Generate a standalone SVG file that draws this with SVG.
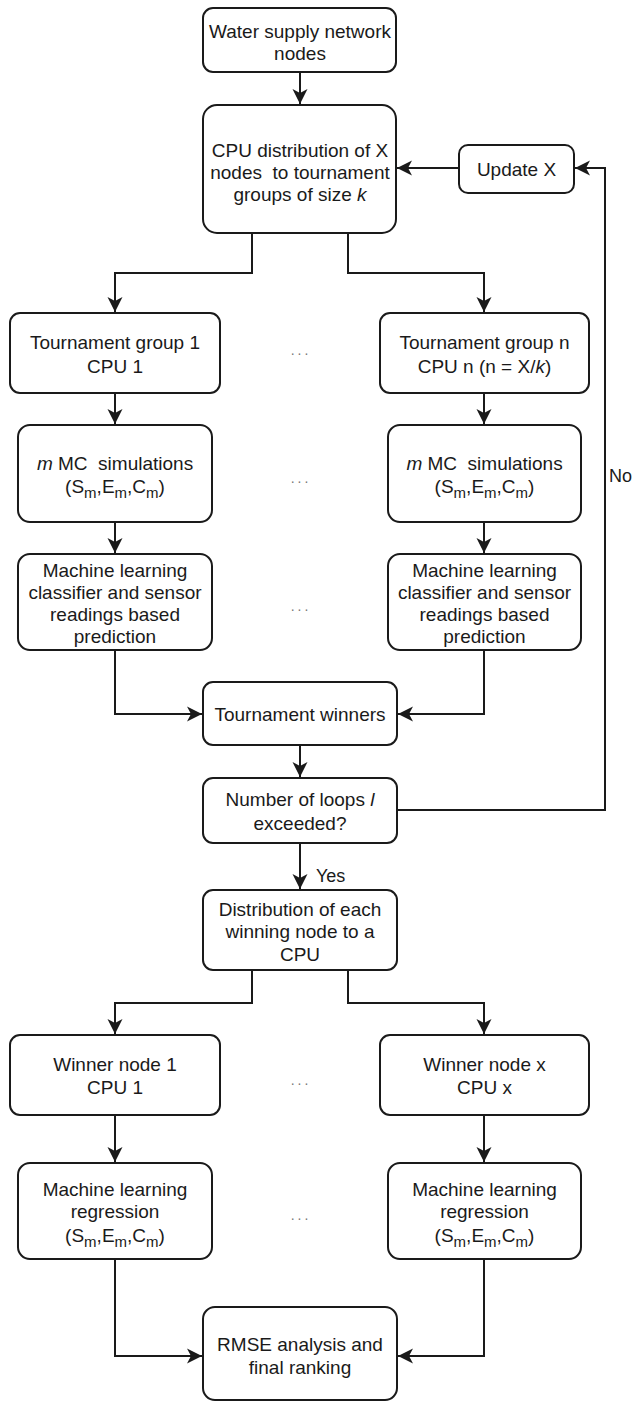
<svg xmlns="http://www.w3.org/2000/svg" width="634" height="1402" viewBox="0 0 634 1402">
<defs>
<style>
.box{fill:#fff;stroke:#1a1a1a;stroke-width:2}
.t{font-family:"Liberation Sans",Arial,sans-serif;font-size:19px;fill:#1a1a1a;text-anchor:middle}
.lbl{font-family:"Liberation Sans",Arial,sans-serif;font-size:18px;fill:#1a1a1a}
.dots{font-family:"Liberation Sans",Arial,sans-serif;font-size:14px;fill:#777;text-anchor:middle;letter-spacing:3px}
.c{fill:none;stroke:#1a1a1a;stroke-width:2}
.s{font-size:15px}
</style>
<marker id="ah" markerUnits="userSpaceOnUse" markerWidth="16" markerHeight="16" refX="15" refY="7.5" orient="auto" viewBox="0 0 16 15">
<path d="M0,0 L15,7.5 L0,15 L4,7.5 Z" fill="#1a1a1a"/>
</marker>
</defs>

<g id="connectors">
<path class="c" d="M300,72 V104" marker-end="url(#ah)"/>
<path class="c" d="M459,168 H397" marker-end="url(#ah)"/>
<path class="c" d="M397,810 H605 V168 H575" marker-end="url(#ah)"/>
<path class="c" d="M252,233 V273 H115 V312" marker-end="url(#ah)"/>
<path class="c" d="M348,233 V273 H484 V312" marker-end="url(#ah)"/>
<path class="c" d="M115,393 V424" marker-end="url(#ah)"/>
<path class="c" d="M484,393 V424" marker-end="url(#ah)"/>
<path class="c" d="M115,522 V553" marker-end="url(#ah)"/>
<path class="c" d="M484,522 V553" marker-end="url(#ah)"/>
<path class="c" d="M115,650 V714 H202" marker-end="url(#ah)"/>
<path class="c" d="M484,650 V714 H398" marker-end="url(#ah)"/>
<path class="c" d="M300,745 V777" marker-end="url(#ah)"/>
<path class="c" d="M300,843 V889" marker-end="url(#ah)"/>
<path class="c" d="M252,970 V1003 H115 V1034" marker-end="url(#ah)"/>
<path class="c" d="M348,970 V1003 H484 V1034" marker-end="url(#ah)"/>
<path class="c" d="M115,1115 V1162" marker-end="url(#ah)"/>
<path class="c" d="M484,1115 V1162" marker-end="url(#ah)"/>
<path class="c" d="M115,1259 V1356 H202" marker-end="url(#ah)"/>
<path class="c" d="M484,1259 V1356 H398" marker-end="url(#ah)"/>
<text class="lbl" x="609" y="482">No</text>
<text class="lbl" x="316" y="882">Yes</text>
</g>

<g id="n_water">
<rect class="box" x="203" y="8" width="193" height="64" rx="10"/>
<text class="t" x="300" y="38">Water supply network</text>
<text class="t" x="300" y="60">nodes</text>
</g>

<g id="n_cpu">
<rect class="box" x="203" y="105" width="193" height="128" rx="14"/>
<text class="t" x="300" y="157">CPU distribution of X</text>
<text class="t" x="300" y="179" style="white-space:pre">nodes  to tournament</text>
<text class="t" x="300" y="201">groups of size <tspan font-style="italic">k</tspan></text>
</g>

<g id="n_update">
<rect class="box" x="459" y="145" width="115" height="48" rx="9"/>
<text class="t" x="516.5" y="176">Update X</text>
</g>

<g id="n_tg1">
<rect class="box" x="10" y="313" width="210" height="80" rx="10"/>
<text class="t" x="115" y="349">Tournament group 1</text>
<text class="t" x="115" y="373">CPU 1</text>
</g>

<g id="n_tgn">
<rect class="box" x="380" y="313" width="209" height="80" rx="10"/>
<text class="t" x="484.5" y="349">Tournament group n</text>
<text class="t" x="484.5" y="373">CPU n (n = X/<tspan font-style="italic">k</tspan>)</text>
</g>

<text class="dots" x="301" y="355">...</text>

<g id="n_mc1">
<rect class="box" x="18" y="425" width="194" height="97" rx="12"/>
<text class="t" x="115" y="470" style="white-space:pre"><tspan font-style="italic">m</tspan> MC  simulations</text>
<text class="t" x="115" y="493">(S<tspan class="s" dy="5">m</tspan><tspan dy="-5">,E</tspan><tspan class="s" dy="5">m</tspan><tspan dy="-5">,C</tspan><tspan class="s" dy="5">m</tspan><tspan dy="-5">)</tspan></text>
</g>

<g id="n_mcn">
<rect class="box" x="388" y="425" width="193" height="97" rx="12"/>
<text class="t" x="484.5" y="470" style="white-space:pre"><tspan font-style="italic">m</tspan> MC  simulations</text>
<text class="t" x="484.5" y="493">(S<tspan class="s" dy="5">m</tspan><tspan dy="-5">,E</tspan><tspan class="s" dy="5">m</tspan><tspan dy="-5">,C</tspan><tspan class="s" dy="5">m</tspan><tspan dy="-5">)</tspan></text>
</g>

<text class="dots" x="301" y="483">...</text>

<g id="n_ml1">
<rect class="box" x="18" y="554" width="194" height="96" rx="12"/>
<text class="t" x="115" y="577">Machine learning</text>
<text class="t" x="115" y="599">classifier and sensor</text>
<text class="t" x="115" y="621">readings based</text>
<text class="t" x="115" y="643">prediction</text>
</g>

<g id="n_mln">
<rect class="box" x="388" y="554" width="193" height="96" rx="12"/>
<text class="t" x="484.5" y="577">Machine learning</text>
<text class="t" x="484.5" y="599">classifier and sensor</text>
<text class="t" x="484.5" y="621">readings based</text>
<text class="t" x="484.5" y="643">prediction</text>
</g>

<text class="dots" x="301" y="611">...</text>

<g id="n_winners">
<rect class="box" x="203" y="682" width="194" height="63" rx="10"/>
<text class="t" x="300" y="721">Tournament winners</text>
</g>

<g id="n_loops">
<rect class="box" x="203" y="778" width="194" height="65" rx="10"/>
<text class="t" x="300" y="806">Number of loops <tspan font-style="italic">l</tspan></text>
<text class="t" x="300" y="830">exceeded?</text>
</g>

<g id="n_dist">
<rect class="box" x="203" y="890" width="194" height="80" rx="10"/>
<text class="t" x="300" y="916">Distribution of each</text>
<text class="t" x="300" y="938">winning node to a</text>
<text class="t" x="300" y="961">CPU</text>
</g>

<g id="n_wn1">
<rect class="box" x="10" y="1035" width="210" height="80" rx="10"/>
<text class="t" x="115" y="1071">Winner node 1</text>
<text class="t" x="115" y="1094">CPU 1</text>
</g>

<g id="n_wnx">
<rect class="box" x="380" y="1035" width="209" height="80" rx="10"/>
<text class="t" x="484.5" y="1071">Winner node x</text>
<text class="t" x="484.5" y="1094">CPU x</text>
</g>

<text class="dots" x="301" y="1085">...</text>

<g id="n_reg1">
<rect class="box" x="18" y="1163" width="194" height="96" rx="12"/>
<text class="t" x="115" y="1196">Machine learning</text>
<text class="t" x="115" y="1218">regression</text>
<text class="t" x="115" y="1242">(S<tspan class="s" dy="5">m</tspan><tspan dy="-5">,E</tspan><tspan class="s" dy="5">m</tspan><tspan dy="-5">,C</tspan><tspan class="s" dy="5">m</tspan><tspan dy="-5">)</tspan></text>
</g>

<g id="n_regx">
<rect class="box" x="388" y="1163" width="193" height="96" rx="12"/>
<text class="t" x="484.5" y="1196">Machine learning</text>
<text class="t" x="484.5" y="1218">regression</text>
<text class="t" x="484.5" y="1242">(S<tspan class="s" dy="5">m</tspan><tspan dy="-5">,E</tspan><tspan class="s" dy="5">m</tspan><tspan dy="-5">,C</tspan><tspan class="s" dy="5">m</tspan><tspan dy="-5">)</tspan></text>
</g>

<text class="dots" x="301" y="1220">...</text>

<g id="n_rmse">
<rect class="box" x="203" y="1307" width="194" height="93" rx="12"/>
<text class="t" x="300" y="1351">RMSE analysis and</text>
<text class="t" x="300" y="1374">final ranking</text>
</g>
</svg>
